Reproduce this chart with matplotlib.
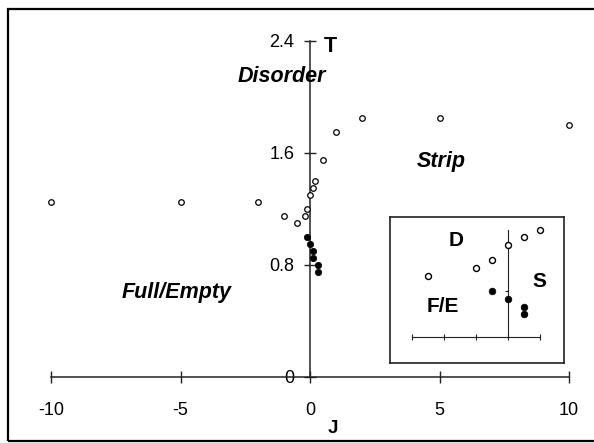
import matplotlib
matplotlib.use("Agg")
import matplotlib.pyplot as plt
from matplotlib.patches import Rectangle

plt.rcParams['font.family'] = ['Liberation Sans', 'DejaVu Sans']
plt.rcParams['axes.unicode_minus'] = False

# ---- main data ----
open_J = [-10, -5, -2, -1, -0.5, -0.2, -0.1, 0, 0.1, 0.2, 0.5, 1, 2, 5, 10]
open_T = [1.25, 1.25, 1.25, 1.15, 1.10, 1.15, 1.20, 1.30, 1.35, 1.40, 1.55, 1.75, 1.85, 1.85, 1.80]
filled_J = [-0.1, 0, 0.1, 0.1, 0.3, 0.3]
filled_T = [1.00, 0.95, 0.90, 0.85, 0.80, 0.75]

x_ticks = [-10, -5, 0, 5, 10]
x_ticklabels = ['-10', '-5', '0', '5', '10']
y_ticks = [0, 0.8, 1.6, 2.4]
y_ticklabels = ['0', '0.8', '1.6', '2.4']

# ---- inset data ----
ins_open_J = [-0.5, -0.2, -0.1, 0, 0.1, 0.2]
ins_open_T = [1.10, 1.15, 1.20, 1.30, 1.35, 1.40]
ins_filled_J = [-0.1, 0, 0.1, 0.1]
ins_filled_T = [1.00, 0.95, 0.90, 0.85]
ins_x_ticks = [-0.6, -0.4, -0.2, 0, 0.2]
ins_y_ticks = [1.0, 1.3]

W, H = 594, 443
fig = plt.figure(figsize=(W / 100, H / 100), dpi=100)
fig.patch.set_facecolor('white')

# outer frame
fig.patches.append(Rectangle((7.8 / W, 1 - 440.5 / H), (597 - 7.8) / W, (440.5 - 9.3) / H,
                             transform=fig.transFigure, fill=False, edgecolor='black',
                             linewidth=1.6, clip_on=False))

# ---- main axes ----
ax = fig.add_axes([0, 0, 1, 1])
ax.patch.set_alpha(0)
ax.set_xlim(-310 / 25.9, (W - 310) / 25.9)
ax.set_ylim((376.5 - H) / 140, 376.5 / 140)

for s in ['top', 'right']:
    ax.spines[s].set_visible(False)
ax.spines['left'].set_position(('data', 0))
ax.spines['bottom'].set_position(('data', 0))
ax.spines['left'].set_bounds(0, 2.4)
ax.spines['bottom'].set_bounds(-10, 10)
for s in ['left', 'bottom']:
    ax.spines[s].set_linewidth(1.1)
    ax.spines[s].set_color('#222222')

ax.set_xticks(x_ticks)
ax.set_xticklabels(x_ticklabels)
ax.set_yticks(y_ticks)
ax.set_yticklabels(y_ticklabels)
ax.tick_params(axis='both', direction='inout', length=8.6, width=1.0, colors='#222222',
               labelcolor='black', labelsize=13)
ax.tick_params(axis='x', pad=14)
ax.tick_params(axis='y', pad=7)

ax.plot(open_J, open_T, linestyle='none', marker='o', markersize=4.0,
        markerfacecolor='white', markeredgecolor='black', markeredgewidth=0.9, zorder=3)
ax.plot(filled_J, filled_T, linestyle='none', marker='o', markersize=4.6,
        markerfacecolor='black', markeredgecolor='black', markeredgewidth=0.5, zorder=3)

ax.set_xlabel('J', fontsize=13.5, fontweight='bold', va='center', ha='center')
ax.xaxis.set_label_coords(333 / W, 1 - 428.3 / H)
ax.set_ylabel('T', fontsize=15.5, fontweight='bold', rotation=0, va='center', ha='center')
ax.yaxis.set_label_coords(330.7 / W, 1 - 46 / H)

lab = dict(fontsize=15.5, fontweight='bold', fontstyle='italic', ha='center', va='center')
ax.text(-1.08, 2.143, 'Disorder', **lab)
ax.text(-5.15, 0.60, 'Full/Empty', **lab)
ax.text(5.06, 1.536, 'Strip', **lab)

# ---- inset ----
bl, bt, br, bb = 390, 217.3, 564.3, 363.3
rect = [bl / W, 1 - bb / H, (br - bl) / W, (bb - bt) / H]
box = fig.add_axes(rect)
box.set_xticks([])
box.set_yticks([])
box.patch.set_facecolor('white')
for s in box.spines.values():
    s.set_linewidth(1.2)
    s.set_color('#222222')

ins = fig.add_axes(rect)
ins.patch.set_alpha(0)
ins.set_xlim((bl - 508.3) / 160, (br - 508.3) / 160)
ins.set_ylim(1.30 - (bb - 245) / 154, 1.30 + (245 - bt) / 154)
for s in ['top', 'right']:
    ins.spines[s].set_visible(False)
ins.spines['left'].set_position(('data', 0))
ins.spines['bottom'].set_position(('data', 0.7))
ins.spines['left'].set_bounds(0.7, 1.4)
ins.spines['bottom'].set_bounds(-0.6, 0.2)
for s in ['left', 'bottom']:
    ins.spines[s].set_linewidth(0.8)
    ins.spines[s].set_color('#222222')
ins.set_xticks(ins_x_ticks)
ins.set_yticks(ins_y_ticks)
ins.set_xticklabels([])
ins.set_yticklabels([])
ins.tick_params(axis='x', direction='inout', length=4.5, width=0.8, colors='#222222')
ins.tick_params(axis='y', direction='out', length=2.5, width=0.8, colors='#222222')

ins.plot(ins_open_J, ins_open_T, linestyle='none', marker='o', markersize=4.3,
         markerfacecolor='white', markeredgecolor='black', markeredgewidth=1.0, zorder=3,
         clip_on=False)
ins.plot(ins_filled_J, ins_filled_T, linestyle='none', marker='o', markersize=4.8,
         markerfacecolor='black', markeredgecolor='black', markeredgewidth=0.5, zorder=3,
         clip_on=False)

ilab = dict(fontsize=15, fontweight='bold', ha='center', va='center')
ins.text(-0.327, 1.328, 'D', **ilab)
ins.text(0.194, 1.062, 'S', **ilab)
ins.text(-0.41, 0.899, 'F/E', **ilab)

fig.savefig('out.png', dpi=100, facecolor='white')
